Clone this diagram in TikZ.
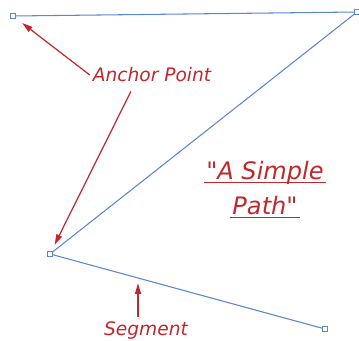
\documentclass[tikz,border=0pt]{standalone}
\usepackage{fontspec}
\newfontfamily\callout{DejaVu Sans}
\usetikzlibrary{arrows.meta, calc}
\definecolor{pathblue}{HTML}{5B86D0}
\definecolor{note}{HTML}{C0282D}
\newcommand\titleline[1]{\underline{\kern1.5pt\raisebox{0pt}[\height][0pt]{#1}\kern1.5pt}}

\begin{document}
\begin{tikzpicture}[x=0.02cm, y=-0.02cm,
  anchorbox/.style={draw=pathblue, line width=0.5pt, fill=white, minimum size=2.8pt, inner sep=0pt},
  lbl/.style={text=note, font=\callout\itshape\fontsize{10.6}{12}\selectfont, inner sep=1.5pt},
  ttl/.style={text=note, font=\callout\itshape\fontsize{13.7}{19.8}\selectfont, align=center, inner sep=0pt},
  arr/.style={-{Triangle[length=6pt, width=3.4pt]}, line width=0.7pt, note},
  seg/.style={pathblue, line width=0.6pt}
]
  \useasboundingbox (0,0) rectangle (359,341);

  % the path
  \node[anchorbox] (a1) at (13,16) {};
  \node[anchorbox] (a2) at (357,12) {};
  \node[anchorbox] (a3) at (50,254) {};
  \node[anchorbox] (a4) at (325,329) {};
  \draw[seg] (a1) -- (a2) -- (a3) -- (a4);
  \coordinate (onseg) at ($(a3)!0.32!(a4)$);

  % labels
  \node[lbl] (anchor) at (152,75) {Anchor Point};
  \node[lbl] (segment) at (146,331) {Segment};
  \node[ttl] (title) at (265,190) {\titleline{"A Simple}\\\titleline{Path"}};

  \draw[arr, shorten >=4.5pt] (anchor.west) -- (a1);
  \draw[arr, shorten <=4pt, shorten >=4pt] ($(anchor.south)+(-18,0)$) -- (a3);
  \draw[arr, shorten <=1pt, shorten >=3pt] (onseg |- segment.north) -- (onseg);
\end{tikzpicture}
\end{document}
